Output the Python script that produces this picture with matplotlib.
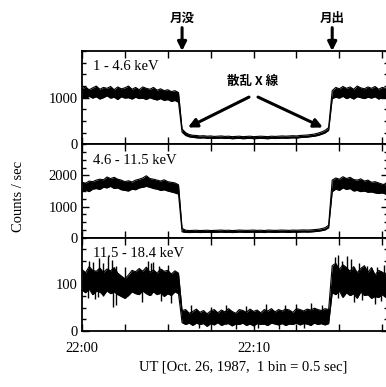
import numpy as np
import matplotlib.pyplot as plt
from matplotlib.ticker import MultipleLocator
from matplotlib.transforms import blended_transform_factory

plt.rcParams['font.family'] = ['Liberation Serif']
plt.rcParams['font.size'] = 10.5

# count-rate envelope (lower / upper edge of the noisy trace), read every 25 bins (12.5 s)
# segments: before moonset | moon behind | after moonrise
soft_hi = ([1190, 1230, 1170, 1210, 1250, 1180, 1220, 1200, 1240, 1170, 1230, 1190, 1210, 1250,
            1180, 1220, 1170, 1230, 1200, 1180, 1220, 1160, 1190, 1150, 1170, 1130, 1150, 1110]
           + [330, 250, 210, 195, 190, 180, 185, 175, 180, 170, 175, 180, 170, 175, 165, 170, 175,
              165, 170, 175, 165, 170, 175, 170, 165, 175, 170, 175, 180, 175, 180, 185, 180, 190,
              195, 200, 210, 220, 240, 265, 300, 360]
           + [1150, 1220, 1190, 1240, 1200, 1230, 1180, 1250, 1210, 1190, 1230, 1200, 1240, 1180,
              1220, 1200, 1230])
soft_lo = ([1010, 980, 1030, 990, 1020, 970, 1000, 1040, 990, 1010, 960, 1020, 990, 1000,
            970, 1010, 980, 990, 960, 1000, 970, 950, 980, 940, 960, 920, 940, 900]
           + [260, 190, 160, 150, 140, 135, 140, 130, 135, 125, 130, 135, 125, 130, 120, 125, 130,
              120, 125, 130, 120, 125, 130, 125, 120, 130, 125, 130, 135, 130, 135, 140, 135, 145,
              150, 155, 165, 175, 190, 215, 245, 300]
           + [980, 1010, 990, 1030, 980, 1010, 970, 1020, 1000, 980, 1010, 990, 1020, 970,
              1000, 990, 1010])

mid_hi = ([1780, 1750, 1820, 1800, 1850, 1880, 1860, 1950, 1900, 1940, 1880, 1850, 1800, 1830,
           1790, 1850, 1880, 1920, 1990, 1900, 1880, 1850, 1820, 1860, 1800, 1780, 1760, 1700]
          + [300, 240, 230, 235, 240, 230, 235, 240, 230, 235, 240, 245, 235, 240, 230, 235, 245,
             240, 235, 240, 245, 235, 240, 230, 245, 240, 235, 240, 245, 240, 235, 245, 240, 245,
             250, 245, 250, 260, 270, 290, 320, 400]
          + [1850, 1920, 1880, 1960, 1900, 1940, 1870, 1850, 1890, 1820, 1850, 1780, 1800, 1760,
             1720, 1700, 1720])
mid_lo = ([1500, 1530, 1480, 1560, 1580, 1550, 1620, 1600, 1650, 1580, 1600, 1540, 1520, 1500,
           1560, 1540, 1600, 1620, 1650, 1620, 1580, 1560, 1520, 1540, 1500, 1470, 1440, 1400]
          + [190, 170, 165, 170, 175, 165, 170, 175, 165, 170, 175, 180, 170, 175, 165, 170, 180,
             175, 170, 175, 180, 170, 175, 165, 180, 175, 170, 175, 180, 175, 170, 180, 175, 180,
             185, 180, 185, 195, 205, 225, 250, 320]
          + [1480, 1560, 1520, 1600, 1550, 1580, 1500, 1520, 1480, 1500, 1460, 1470, 1440, 1420,
             1440, 1400, 1420])

hard_hi = ([132, 125, 138, 130, 128, 135, 126, 133, 129, 136, 124, 118, 112, 120,
            130, 127, 134, 128, 137, 126, 131, 124, 133, 128, 130, 122, 129, 124]
           + [44, 46, 38, 42, 47, 40, 44, 37, 43, 46, 39, 45, 41, 48, 42, 38, 46, 44, 40, 47, 42,
              45, 39, 46, 43, 48, 41, 46, 43, 47, 45, 40, 48, 46, 43, 47, 45, 49, 46, 44, 48, 46]
           + [140, 145, 132, 142, 136, 128, 138, 125, 134, 140, 126, 136, 120, 130, 126, 122, 128])
hard_lo = ([88, 82, 90, 78, 85, 84, 76, 86, 80, 84, 78, 74, 70, 76,
            84, 80, 78, 86, 80, 76, 84, 78, 82, 74, 80, 76, 84, 80]
           + [18, 14, 17, 12, 17, 14, 16, 10, 16, 13, 18, 12, 15, 16, 11, 15, 14, 17, 12, 15, 11,
              16, 14, 15, 12, 17, 15, 13, 16, 12, 15, 14, 17, 13, 16, 15, 12, 17, 14, 16, 13, 16]
           + [82, 78, 86, 72, 82, 76, 80, 70, 84, 76, 78, 70, 74, 72, 78, 72, 76])

# single-bin spikes of the hard band (bin, count)
hard_up_bins = [50, 80, 120, 150, 180, 210, 235, 300, 460, 480, 500, 540, 600,
                760, 900, 1010, 1150, 1290, 1420, 1500, 1600, 1680,
                1770, 1790, 1820, 1850, 1880, 1940, 1990, 2060, 2110]
hard_up_tops = [150, 148, 156, 145, 160, 152, 140, 138, 150, 146, 148, 140, 142,
                55, 52, 56, 54, 58, 55, 57, 60, 56,
                158, 162, 150, 160, 155, 145, 140, 138, 142]
hard_dn_bins = [40, 90, 110, 220, 240, 420, 550, 620,
                820, 1080, 1230, 1380, 1550,
                1790, 1900, 1960, 2050, 2090]
hard_dn_bottoms = [70, 68, 72, 52, 55, 63, 65, 60,
                   6, 5, 7, 5, 6,
                   70, 62, 66, 57, 64]

band_names = ['1 - 4.6 keV', '4.6 - 11.5 keV', '11.5 - 18.4 keV']
y_tops = [2000, 3000, 200]
y_major = [[0, 1000], [0, 1000, 2000], [0, 100]]
y_minor = [250, 250, 25]

moonset, moonrise = 700, 1750   # bins
time_labels = ['22:00', '', '', '', '22:10', '', '', '']

fig = plt.figure(figsize=(3.86, 3.87), dpi=100)
h = 0.2412
axes = []
for k, (lo, hi) in enumerate([(soft_lo, soft_hi), (mid_lo, mid_hi), (hard_lo, hard_hi)]):
    ax = fig.add_axes([0.2124, 0.8682 - (k + 1) * h, 0.7927, h])
    t = np.arange(len(lo)) * 25
    ax.fill_between(t, lo, hi, color='black', lw=0)
    ax.plot(t, lo, color='black', lw=0.8)
    ax.plot(t, hi, color='black', lw=0.8)
    ax.set_xlim(0, 2140)
    ax.set_ylim(0, y_tops[k])
    ax.set_yticks(y_major[k])
    ax.yaxis.set_minor_locator(MultipleLocator(y_minor[k]))
    ax.set_xticks(range(0, 2140, 300))
    ax.tick_params(which='both', direction='in', top=True, right=True, width=1, pad=3)
    ax.tick_params(which='major', length=5)
    ax.tick_params(which='minor', length=3)
    for s in ax.spines.values():
        s.set_linewidth(1.3)
    ax.text(0.036, 0.83, band_names[k], transform=ax.transAxes, va='center')
    if k < 2:
        ax.tick_params(labelbottom=False)
    else:
        ax.set_xticklabels(time_labels)
        ax.tick_params(axis='x', pad=8)
    axes.append(ax)

ax3 = axes[2]
t3 = np.arange(len(hard_hi)) * 25
ax3.vlines(hard_up_bins, np.interp(hard_up_bins, t3, hard_lo), hard_up_tops, color='black', lw=1)
ax3.vlines(hard_dn_bins, hard_dn_bottoms, np.interp(hard_dn_bins, t3, hard_hi), color='black', lw=1)

ax1 = axes[0]
cjk = ['Noto Sans CJK JP']
arrow = dict(arrowstyle='-|>', lw=2.2, color='black', mutation_scale=13, shrinkA=0, shrinkB=0)

# moonset / moonrise markers above the top panel
trans = blended_transform_factory(ax1.transData, ax1.transAxes)
for tm, name in [(moonset, '月没'), (moonrise, '月出')]:
    ax1.annotate('', xy=(tm, 1.0), xycoords=trans, xytext=(tm, 1.25), textcoords=trans,
                 arrowprops=arrow, annotation_clip=False)
    ax1.text(tm, 1.35, name, transform=trans, family=cjk, fontsize=9, fontweight='bold',
             ha='center', va='center', clip_on=False)

# scattered X-rays
ax1.text(1196, 1340, '散乱 X 線', family=cjk, fontsize=9, fontweight='bold', ha='center', va='center')
ax1.annotate('', xy=(741, 362), xytext=(1168, 1013), arrowprops=arrow)
ax1.annotate('', xy=(1685, 362), xytext=(1231, 1013), arrowprops=arrow)

fig.text(19 / 386, 1 - 196 / 387, 'Counts / sec', rotation=90, ha='center', va='center')
fig.text(243 / 386, 1 - 367 / 387, 'UT [Oct. 26, 1987,  1 bin = 0.5 sec]', ha='center', va='center')

fig.savefig('out.png', dpi=100)
